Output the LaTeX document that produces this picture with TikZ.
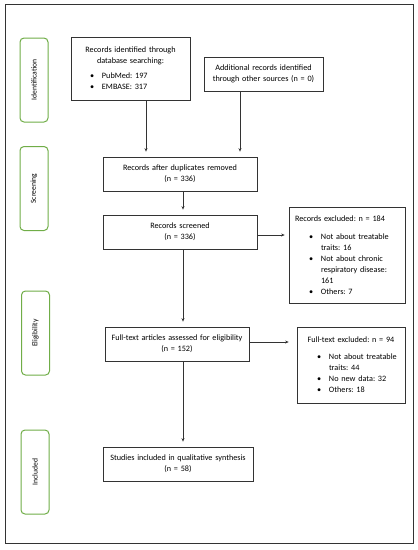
\documentclass[tikz,border=0pt]{standalone}
\usepackage{fontspec}
\setmainfont{Carlito}
\usetikzlibrary{arrows.meta}
\frenchspacing
\newcommand\bitem[2][20pt]{\makebox[\linewidth][l]{\hspace*{#1}\makebox[12pt][l]{\textbullet}#2}}
\newcommand\bcont[2][20pt]{\makebox[\linewidth][l]{\hspace*{#1}\hspace*{12pt}#2}}
\newcommand\ltitle[2][6pt]{\makebox[\linewidth][l]{\hspace*{#1}#2}}
\definecolor{stagegreen}{HTML}{70AD47}
\definecolor{linegray}{HTML}{333333}
\tikzset{
  box/.style={draw=linegray, line width=0.7pt, fill=white, inner sep=0pt, align=center,
    font=\fontsize{8.2pt}{11pt}\selectfont},
  stage/.style={draw=stagegreen, line width=1pt, rounded corners=4pt, fill=white,
    minimum width=28pt, minimum height=84pt, inner sep=0pt},
  stagetext/.style={rotate=90, font=\fontsize{7.6pt}{9pt}\selectfont},
  arr/.style={draw=linegray, line width=0.5pt, -{Stealth[length=3.5pt,width=3pt]}, shorten >=5pt}
}
\begin{document}
\begin{tikzpicture}[x=1pt,y=-1pt]
\useasboundingbox (0,0) rectangle (418,550);
\draw[linegray, line width=0.9pt] (5,4) rectangle (413,543);

% stage labels
\node[stage] (sid) at (34,80) {};
\node[stagetext] (tid) at (sid.center) {Identification};
\node[stage] (ssc) at (34,188.5) {};
\node[stagetext] (tsc) at (ssc.center) {Screening};
\node[stage] (sel) at (35.5,333) {};
\node[stagetext] (tel) at (sel.center) {Eligibility};
\node[stage] (sin) at (35,472) {};
\node[stagetext] (tin) at (sin.center) {Included};

% boxes
\node[box, minimum width=119pt, minimum height=63pt, text width=119pt] (db) at (130.5,68.5)
  {Records identified through\\database searching:\\[4pt]
   \bitem[19pt]{PubMed: 197}\\ \bitem[19pt]{EMBASE: 317}};
\node[box, minimum width=119pt, minimum height=34pt, text width=119pt] (add) at (263.5,74)
  {Additional records identified\\through other sources (n = 0)};
\node[box, minimum width=154pt, minimum height=34pt, text width=154pt] (dup) at (180,174)
  {Records after duplicates removed\\(n = 336)};
\node[box, minimum width=154pt, minimum height=34pt, text width=154pt] (scr) at (180,232)
  {Records screened\\(n = 336)};
\node[box, minimum width=116pt, minimum height=96pt, text width=116pt] (ex1) at (347,255)
  {\ltitle{Records excluded: n = 184}\\[7pt]
   \bitem{Not about treatable}\\ \bcont{traits: 16}\\
   \bitem{Not about chronic}\\ \bcont{respiratory disease:}\\ \bcont{161}\\
   \bitem{Others: 7}};
\node[box, minimum width=144pt, minimum height=34pt, text width=144pt] (ft) at (177,344)
  {Full-text articles assessed for eligibility\\(n = 152)};
\node[box, minimum width=108pt, minimum height=76pt, text width=108pt] (ex2) at (351,365)
  {Full-text excluded: n = 94\\[6pt]
   \bitem{Not about treatable}\\ \bcont{traits: 44}\\
   \bitem{No new data: 32}\\ \bitem{Others: 18}};
\node[box, minimum width=150pt, minimum height=34pt, text width=150pt] (inc) at (178,464)
  {Studies included in qualitative synthesis\\(n = 58)};

% connectors
\coordinate (va) at (146,0);
\coordinate (vb) at (240,0);
\coordinate (vx) at (183,0);
\draw[arr] (db.south -| va) -- (dup.north -| va);
\draw[arr] (add.south -| vb) -- (dup.north -| vb);
\draw[arr] (dup.south -| vx) -- (scr.north -| vx);
\draw[arr] (scr.south -| vx) -- (ft.north -| vx);
\draw[arr] (ft.south -| vx) -- (inc.north -| vx);
\draw[arr, shorten >=4pt] ([yshift=-3pt]scr.east) -- ([yshift=-3pt]ex1.west |- scr.east);
\draw[arr, shorten >=8pt] ([yshift=2pt]ft.east) -- ([yshift=2pt]ex2.west |- ft.east);
\end{tikzpicture}
\end{document}
